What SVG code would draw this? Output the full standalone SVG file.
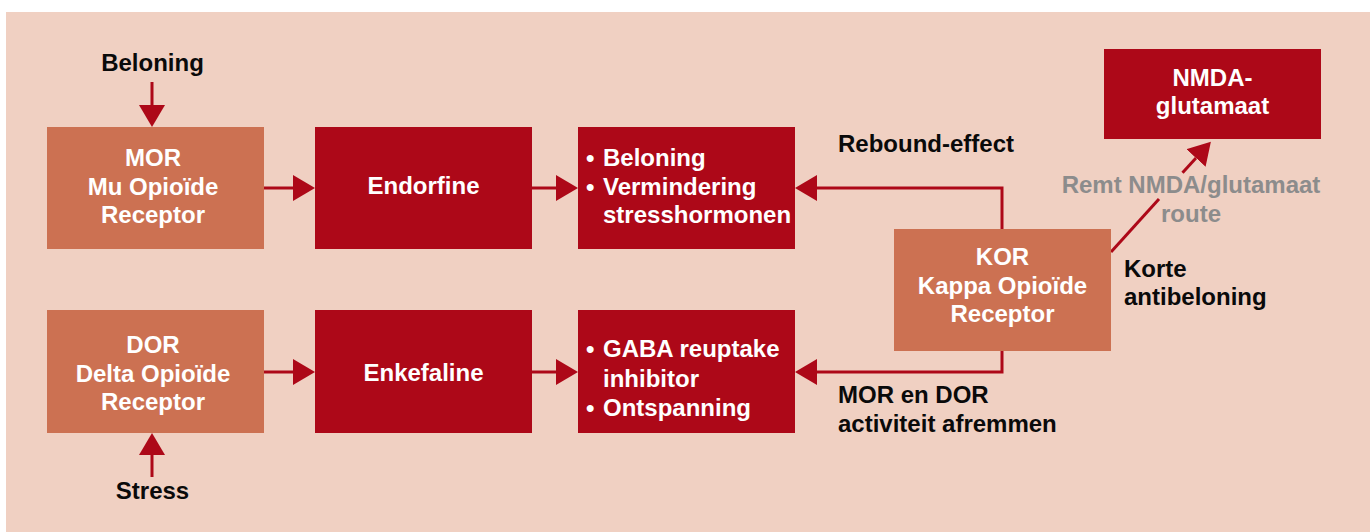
<svg xmlns="http://www.w3.org/2000/svg" width="1370" height="532" viewBox="0 0 1370 532">
<style>
.bg{fill:#f0d0c2}
.or{fill:#cc7152}
.rd{fill:#ad0818}
.t{font-family:"Liberation Sans",Arial,sans-serif;font-weight:bold;font-size:24px}
.w{fill:#ffffff}
.k{fill:#0a0a0a}
.g{fill:#8c8c8c}
.ln{stroke:#ad0818;stroke-width:3;fill:none}
</style>
<defs>
<marker id="ah" markerUnits="userSpaceOnUse" markerWidth="22" markerHeight="26" refX="0" refY="13" orient="auto" viewBox="0 0 22 26">
<path d="M0,0 L22,13 L0,26 Z" fill="#ad0818"/>
</marker>
</defs>
<rect x="0" y="0" width="1370" height="532" fill="#ffffff"/>
<rect class="bg" x="6" y="12" width="1364" height="520"/>
<g id="connectors">
<line class="ln" x1="152" y1="82" x2="152" y2="105" marker-end="url(#ah)"/>
<line class="ln" x1="152" y1="477" x2="152" y2="455" marker-end="url(#ah)"/>
<line class="ln" x1="263" y1="188" x2="293" y2="188" marker-end="url(#ah)"/>
<line class="ln" x1="531" y1="188" x2="556" y2="188" marker-end="url(#ah)"/>
<line class="ln" x1="263" y1="372" x2="293" y2="372" marker-end="url(#ah)"/>
<line class="ln" x1="531" y1="372" x2="556" y2="372" marker-end="url(#ah)"/>
<polyline class="ln" points="1002,229 1002,188 817,188" marker-end="url(#ah)"/>
<polyline class="ln" points="1002,351 1002,372 817,372" marker-end="url(#ah)"/>
<line class="ln" x1="1111" y1="252" x2="1159" y2="199"/>
<line class="ln" x1="1182.5" y1="172.7" x2="1196" y2="158" marker-end="url(#ah)"/>
</g>
<g id="label-beloning"><text class="t k" x="152.5" y="71" text-anchor="middle">Beloning</text></g>
<g id="label-stress"><text class="t k" x="152.5" y="499" text-anchor="middle">Stress</text></g>
<g id="mor">
<rect class="or" x="47" y="127" width="217" height="122"/>
<text class="t w" text-anchor="middle"><tspan x="153" y="166">MOR</tspan><tspan x="153" y="195">Mu Opioïde</tspan><tspan x="153" y="223">Receptor</tspan></text>
</g>
<g id="endorfine">
<rect class="rd" x="315" y="127" width="217" height="122"/>
<text class="t w" x="423.5" y="194" text-anchor="middle">Endorfine</text>
</g>
<g id="beloning-box">
<rect class="rd" x="578" y="127" width="217" height="122"/>
<text class="t w"><tspan x="586" y="166">•</tspan><tspan x="603" y="166">Beloning</tspan><tspan x="586" y="195">•</tspan><tspan x="603" y="195">Vermindering</tspan><tspan x="603" y="223">stresshormonen</tspan></text>
</g>
<g id="dor">
<rect class="or" x="47" y="310" width="217" height="123"/>
<text class="t w" text-anchor="middle"><tspan x="153" y="353">DOR</tspan><tspan x="153" y="382">Delta Opioïde</tspan><tspan x="153" y="410">Receptor</tspan></text>
</g>
<g id="enkefaline">
<rect class="rd" x="315" y="310" width="217" height="123"/>
<text class="t w" x="423.5" y="381" text-anchor="middle">Enkefaline</text>
</g>
<g id="gaba-box">
<rect class="rd" x="578" y="310" width="217" height="123"/>
<text class="t w"><tspan x="586" y="357">•</tspan><tspan x="603" y="357">GABA reuptake</tspan><tspan x="603" y="387">inhibitor</tspan><tspan x="586" y="416">•</tspan><tspan x="603" y="416">Ontspanning</tspan></text>
</g>
<g id="kor">
<rect class="or" x="894" y="229" width="217" height="122"/>
<text class="t w" text-anchor="middle"><tspan x="1002.5" y="265">KOR</tspan><tspan x="1002.5" y="294">Kappa Opioïde</tspan><tspan x="1002.5" y="322">Receptor</tspan></text>
</g>
<g id="nmda">
<rect class="rd" x="1104" y="49" width="217" height="90"/>
<text class="t w" text-anchor="middle"><tspan x="1212.5" y="86">NMDA-</tspan><tspan x="1212.5" y="114">glutamaat</tspan></text>
</g>
<g id="labels">
<text class="t k" x="838" y="152">Rebound-effect</text>
<text class="t g" text-anchor="middle"><tspan x="1191" y="193">Remt NMDA/glutamaat</tspan><tspan x="1191" y="222">route</tspan></text>
<text class="t k"><tspan x="1124" y="277">Korte</tspan><tspan x="1124" y="305">antibeloning</tspan></text>
<text class="t k"><tspan x="838" y="403">MOR en DOR</tspan><tspan x="838" y="432">activiteit afremmen</tspan></text>
</g>
</svg>
